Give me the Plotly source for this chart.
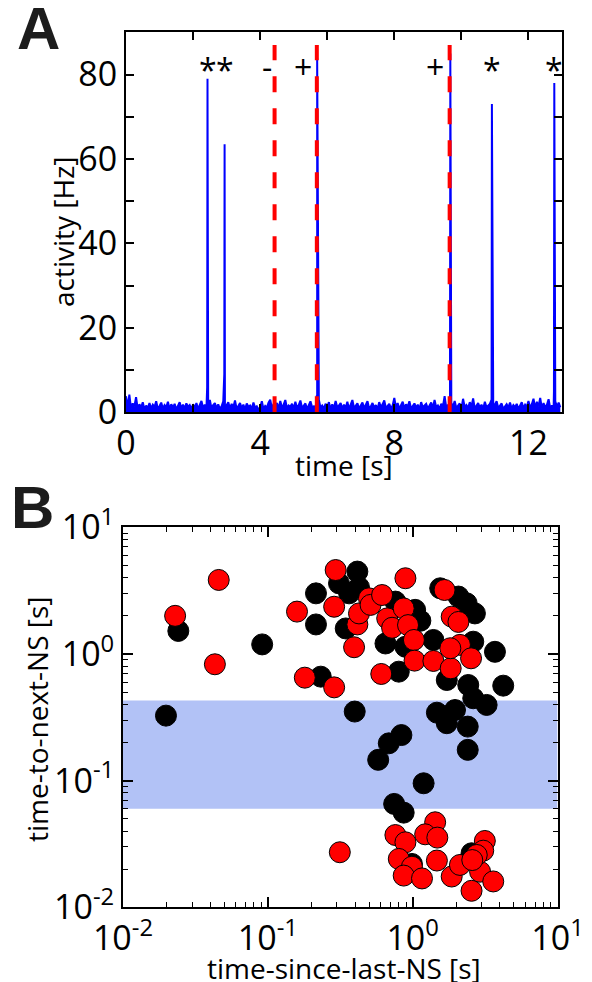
import numpy as np
import plotly.graph_objects as go

W, H = 592, 982

# ---------------- Panel A data ----------------
dt = 0.05
noise = [
    3.8, 1.2, 4.2, 0.9, 2.1, 1.4, 3.6, 0.8, 1.9, 1.1, 2.4, 0.7, 1.6, 1.0, 2.2, 0.9, 1.8, 1.3, 2.6, 0.8,
    1.5, 2.3, 0.9, 1.7, 1.2, 2.5, 0.8, 1.9, 1.1, 2.0, 0.7, 1.6, 2.4, 1.0, 1.8, 0.9, 2.1, 1.3, 1.7, 0.8,
    1.9, 1.1, 2.2, 0.8, 1.6, 2.7, 1.0, 1.8, 1.2, 1.5, 2.9, 0.9, 1.7, 2.2, 1.0, 1.9, 0.8, 1.4, 2.6, 1.1,
    1.7, 2.4, 0.9, 2.0, 1.2, 2.8, 0.8, 1.5, 2.2, 1.0, 1.8, 0.7, 2.1, 1.3, 1.6, 0.9, 2.3, 1.1, 1.4, 0.6,
    1.2, 2.6, 0.8, 1.5, 1.1, 2.3, 3.0, 1.0, 1.9, 1.4, 2.2, 0.9, 2.7, 1.2, 1.8, 2.9, 1.0, 1.6, 1.3, 2.0,
    0.9, 2.5, 1.1, 1.7, 2.8, 1.0, 1.5, 2.1, 0.8, 1.8, 2.6, 1.2, 1.4, 0.7, 2.2, 3.0, 1.1, 1.6, 0.9, 2.0,
    1.3, 2.4, 0.8, 1.9, 1.0, 2.7, 1.2, 1.6, 2.2, 0.9, 1.8, 1.1, 2.5, 0.8, 1.7, 2.9, 1.0, 1.5, 2.1, 0.9,
    1.6, 2.3, 1.0, 1.8, 2.6, 0.9, 1.4, 2.2, 1.1, 1.7, 0.8, 2.4, 1.2, 1.9, 2.8, 1.0, 1.5, 2.0, 0.9, 1.6,
    3.4, 1.1, 2.2, 0.8, 1.7, 2.5, 1.0, 1.9, 1.3, 2.6, 0.9, 1.5, 2.1, 1.1, 1.8, 0.7, 2.4, 1.2, 1.6, 2.0,
    0.9, 1.7, 2.3, 1.0, 2.9, 1.2, 1.6, 0.8, 2.0, 1.4, 3.8, 1.1, 1.8, 0.9, 2.2, 1.3, 2.7, 1.0, 1.5, 2.1,
    0.8, 3.2, 1.2, 1.7, 1.0, 2.4, 1.3, 3.3, 0.9, 1.6, 2.2, 1.1, 1.8, 0.8, 2.5, 1.2, 1.5, 2.0, 3.0, 1.1,
    1.9, 2.6, 1.0, 1.6, 2.1, 0.8, 1.4, 1.9, 1.1, 2.3, 0.9, 1.7, 1.2, 2.0, 0.8, 1.5, 2.4, 1.0, 1.8, 1.3,
    2.7, 1.1, 1.9, 3.2, 1.0, 2.5, 1.4, 3.4, 0.9, 2.2, 1.2, 1.8, 3.1, 1.0, 1.6, 0.8, 2.6, 1.3, 2.3, 1.2,
]
spike_t = [2.42, 2.43, 2.93, 2.94, 5.69, 5.70, 9.66, 9.67, 10.90, 10.91, 12.76, 12.77]
spike_v = [6.0, 79.0, 9.0, 63.5, 4.0, 84.0, 4.0, 85.0, 4.0, 73.0, 5.0, 78.0]
event_t = [4.43, 5.69, 9.65]
event_top = 87.0
label_t = [2.43, 2.94, 4.21, 5.29, 9.20, 10.91, 12.77]
label_txt = ["*", "*", "-", "+", "+", "*", "*"]

# ---------------- Panel B data ----------------
black_x = [0.0241, 0.0914, 0.0198, 0.215, 0.215, 0.415, 0.310, 0.364, 0.426, 0.345,
           0.232, 0.802, 0.649, 1.04, 1.13, 0.891, 0.760, 1.55, 2.07, 2.36,
           2.69, 1.39, 1.72, 2.62, 3.70, 2.42, 4.22, 2.62, 3.24, 0.398,
           1.47, 1.96, 1.72, 2.40, 2.40, 0.836, 0.684, 0.578, 1.19, 0.745,
           0.867, 2.55, 0.988]
black_y = [1.52, 1.19, 0.326, 3.01, 1.71, 4.47, 3.61, 3.01, 3.36, 1.59,
           0.662, 0.725, 1.21, 2.23, 1.83, 1.14, 2.59, 3.30, 2.84, 2.51,
           2.09, 1.29, 0.623, 1.25, 1.04, 0.569, 0.562, 0.447, 0.396, 0.351,
           0.344, 0.361, 0.284, 0.267, 0.175, 0.229, 0.197, 0.146, 0.0953, 0.0655,
           0.0559, 0.0267, 0.022]
red_x = [0.0229, 0.0458, 0.0431, 0.294, 0.159, 0.287, 0.180, 0.287, 0.394, 0.415,
         0.426, 0.499, 0.512, 0.615, 0.667, 0.721, 0.867, 0.891, 0.929, 1.02,
         1.03, 0.607, 1.39, 1.66, 1.83, 1.86, 2.07, 2.12, 1.82, 2.53,
         0.760, 0.891, 1.43, 1.22, 1.48, 0.314, 0.802, 1.47, 0.988, 0.867,
         1.16, 1.86, 2.12, 2.55, 2.92, 3.60, 3.15, 3.07, 2.77, 2.58]
red_y = [2.00, 3.84, 0.829, 4.60, 2.16, 2.36, 0.650, 0.545, 1.13, 1.71,
         2.09, 2.75, 2.44, 2.92, 1.91, 1.61, 2.29, 3.96, 1.69, 1.29,
         0.886, 0.695, 0.881, 3.20, 0.770, 1.97, 1.79, 1.18, 1.11, 0.924,
         0.0372, 0.0326, 0.0469, 0.0377, 0.0355, 0.0272, 0.0241, 0.0234, 0.0209, 0.0178,
         0.0169, 0.0175, 0.0216, 0.0135, 0.0191, 0.0160, 0.0334, 0.0280, 0.0259, 0.0236]
band_lo, band_hi = 0.06, 0.43

# ---------------- build activity series ----------------
t_noise = np.arange(len(noise)) * dt
t_all = np.concatenate([t_noise, spike_t])
v_all = np.concatenate([noise, spike_v])
order = np.argsort(t_all, kind="stable")
t_all, v_all = t_all[order], v_all[order]

FONT = "Open Sans"
BLUE = "#0000ff"
RED = "#ff0000"

fig = go.Figure()

fig.add_trace(go.Scatter(x=t_all, y=v_all, mode="lines", fill="tozeroy",
                         fillcolor=BLUE, line=dict(color=BLUE, width=2),
                         xaxis="x", yaxis="y", showlegend=False, hoverinfo="skip"))
for et in event_t:
    fig.add_trace(go.Scatter(x=[et, et], y=[0, event_top], mode="lines",
                             line=dict(color=RED, width=4, dash="16px,16px"),
                             xaxis="x", yaxis="y", showlegend=False, hoverinfo="skip"))

# band
fig.add_trace(go.Scatter(x=[0.01, 10, 10, 0.01, 0.01],
                         y=[band_lo, band_lo, band_hi, band_hi, band_lo],
                         mode="lines", fill="toself", fillcolor="#b2c2f6",
                         line=dict(width=0, color="#b2c2f6"),
                         xaxis="x2", yaxis="y2", showlegend=False, hoverinfo="skip"))
fig.add_trace(go.Scatter(x=black_x, y=black_y, mode="markers",
                         marker=dict(size=21, color="#000000", line=dict(color="#000000", width=1)),
                         xaxis="x2", yaxis="y2", showlegend=False))
fig.add_trace(go.Scatter(x=red_x, y=red_y, mode="markers",
                         marker=dict(size=21, color=RED, line=dict(color="#000000", width=1)),
                         xaxis="x2", yaxis="y2", showlegend=False))

# labels above spikes
for lt, lx in zip(label_t, label_txt):
    fig.add_annotation(x=lt, y=82, xref="x", yref="y", text=lx, showarrow=False,
                       font=dict(family=FONT, size=32, color="black"),
                       yshift=-3 if lx == "*" else 0)

axis_common = dict(showline=True, linewidth=2, linecolor="black", mirror="ticks",
                   ticks="inside", tickcolor="black", tickwidth=1.5, showgrid=False,
                   zeroline=False, automargin=False,
                   tickfont=dict(family=FONT, size=34, color="black"))

# domains
ax_dom = [126 / W, 562 / W]
ay_dom = [1 - 412.3 / H, 1 - 32.3 / H]
bx_dom = [123 / W, 557.5 / W]
by_dom = [1 - 907.3 / H, 1 - 527.3 / H]

xt = list(range(0, 13, 2))
yt = list(range(0, 81, 10))
fig.update_layout(
    xaxis=dict(domain=ax_dom, range=[0, 13], tickvals=xt,
               ticktext=[str(v) if v % 4 == 0 else "" for v in xt],
               ticklen=8, anchor="y", **axis_common),
    yaxis=dict(domain=ay_dom, range=[0, 90], tickvals=yt,
               ticktext=[str(v) if v % 20 == 0 else "" for v in yt],
               ticklen=8, anchor="x", **axis_common),
)

dec = [0.01, 0.1, 1, 10]
dec_txt = ["10<sup>-2</sup>", "10<sup>-1</sup>", "10<sup>0</sup>", "10<sup>1</sup>"]
minor_vals = [m * 10.0 ** e for e in range(-2, 1) for m in range(2, 10)]
fig.update_layout(
    xaxis2=dict(domain=bx_dom, type="log", range=[-2, 1], tickvals=dec, ticktext=dec_txt,
                ticklen=10, anchor="y2",
                minor=dict(tickvals=minor_vals, ticks="inside", ticklen=5, tickwidth=1.2,
                           tickcolor="black", showgrid=False),
                **axis_common),
    yaxis2=dict(domain=by_dom, type="log", range=[-2, 1], tickvals=dec, ticktext=dec_txt,
                ticklen=10, anchor="x2",
                minor=dict(tickvals=minor_vals, ticks="inside", ticklen=5, tickwidth=1.2,
                           tickcolor="black", showgrid=False),
                **axis_common),
)

title_font = dict(family=FONT, size=28, color="black")
fig.add_annotation(x=344 / W, y=1 - 465 / H, xref="paper", yref="paper", text="time [s]",
                   showarrow=False, font=title_font, xanchor="center", yanchor="middle")
fig.add_annotation(x=63 / W, y=1 - 232 / H, xref="paper", yref="paper", text="activity [Hz]",
                   showarrow=False, font=title_font, textangle=-90, xanchor="center", yanchor="middle")
fig.add_annotation(x=344 / W, y=1 - 968 / H, xref="paper", yref="paper", text="time-since-last-NS [s]",
                   showarrow=False, font=title_font, xanchor="center", yanchor="middle")
fig.add_annotation(x=37 / W, y=1 - 720 / H, xref="paper", yref="paper", text="time-to-next-NS [s]",
                   showarrow=False, font=title_font, textangle=-90, xanchor="center", yanchor="middle")

panel_font = dict(family="Liberation Sans", size=60, color="#1c1c1c")
fig.add_annotation(x=39 / W, y=1 - 29 / H, xref="paper", yref="paper", text="<b>A</b>",
                   showarrow=False, font=panel_font, xanchor="center", yanchor="middle")
fig.add_annotation(x=32 / W, y=1 - 507 / H, xref="paper", yref="paper", text="<b>B</b>",
                   showarrow=False, font=panel_font, xanchor="center", yanchor="middle")

fig.update_layout(width=W, height=H, margin=dict(l=0, r=0, t=0, b=0),
                  paper_bgcolor="white", plot_bgcolor="white", showlegend=False)

fig.write_html("out.html", config={"displayModeBar": False},
               post_script="document.body.style.margin='0';document.body.style.overflow='hidden';")
